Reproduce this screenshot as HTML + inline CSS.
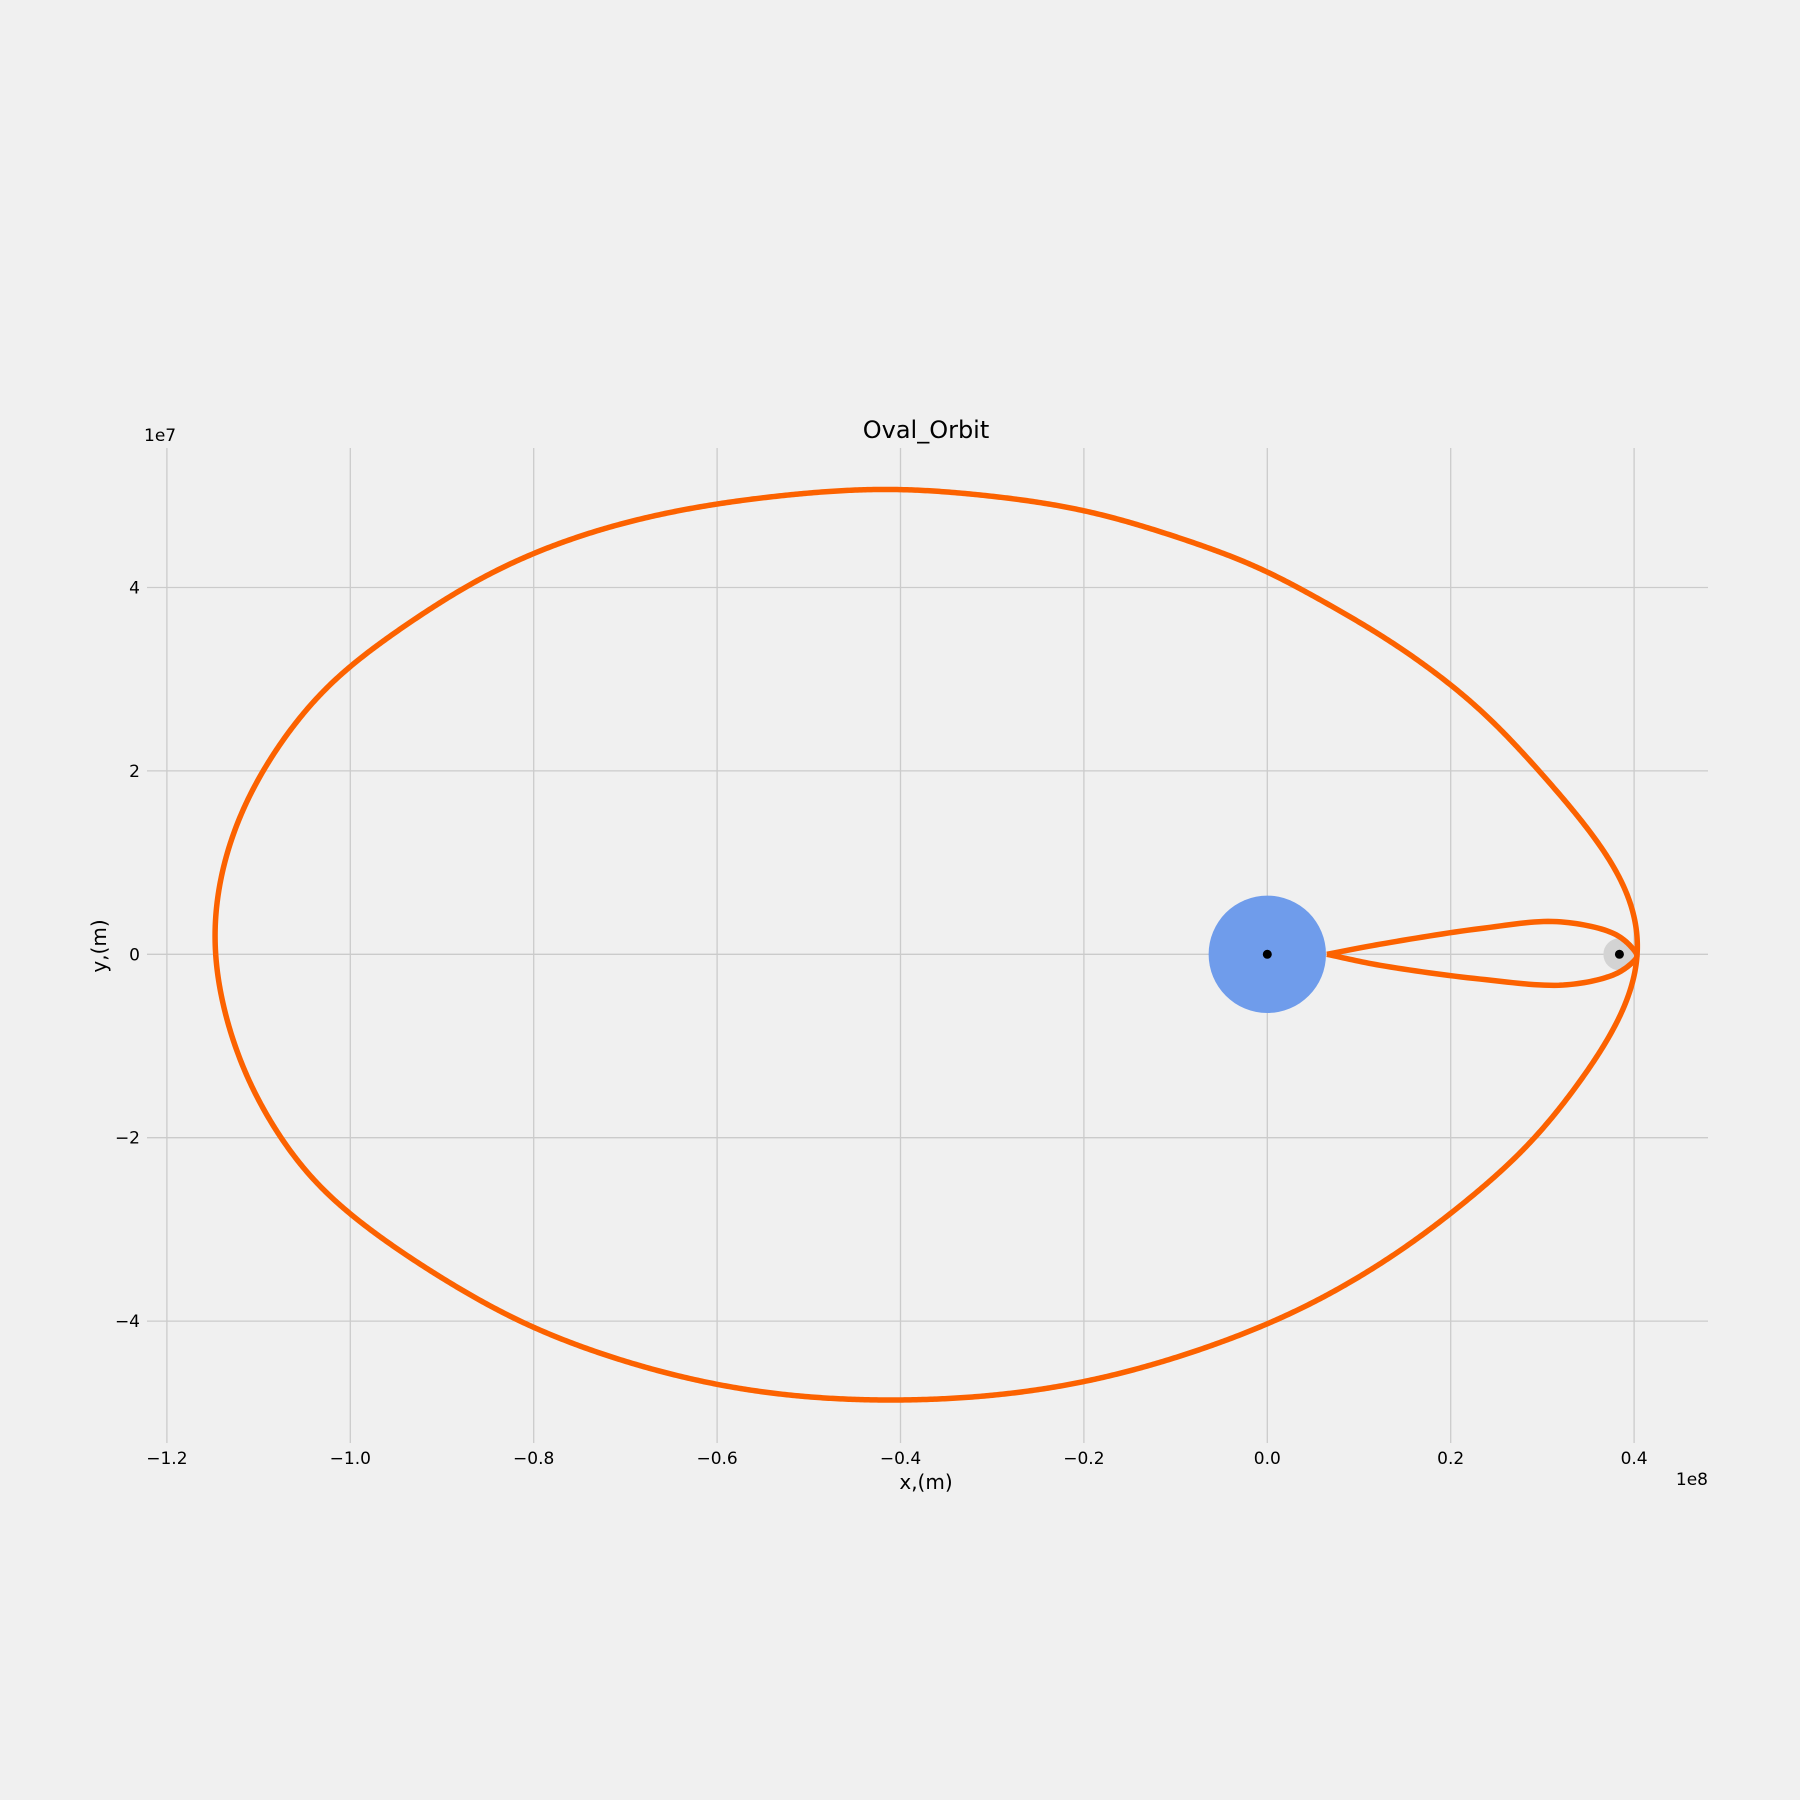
<!DOCTYPE html>
<html><head><meta charset="utf-8"><style>
html,body{margin:0;padding:0;background:#f0f0f0;}
svg{display:block;font-family:"DejaVu Sans","Liberation Sans",sans-serif;}
</style></head><body>
<svg id="chart" width="1800" height="1800" viewBox="0 0 1800 1800">
<rect width="1800" height="1800" fill="#f0f0f0"/>
<g id="grid"></g>
<g id="ticks"></g>
<g id="marks"></g>
<text x="926" y="438" font-size="24" text-anchor="middle" fill="#000">Oval_Orbit</text>
<text x="926" y="1489" font-size="20" text-anchor="middle" fill="#000">x,(m)</text>
<text x="0" y="0" font-size="20" text-anchor="middle" fill="#000" transform="translate(106,946) rotate(-90)">y,(m)</text>
<text x="1708" y="1485" font-size="17" text-anchor="end" fill="#000">1e8</text>
<text x="144" y="441" font-size="17" fill="#000">1e7</text>
</svg>
<script>
const xTicks = [-1.2, -1.0, -0.8, -0.6, -0.4, -0.2, 0.0, 0.2, 0.4];
const xTickLabels = ["\u22121.2","\u22121.0","\u22120.8","\u22120.6","\u22120.4","\u22120.2","0.0","0.2","0.4"];
const yTicks = [4, 2, 0, -2, -4];
const yTickLabels = ["4","2","0","\u22122","\u22124"];
// orbit points in units of 1e7 m
const outerX = [4.05, 4.03, 3.955, 3.77, 3.41, 2.955, 2.32, 1.30, 0.32, 0.0, -0.97, -2.0, -3.27, -4.31, -6.0, -7.13, -8.0, -8.75, -10.0, -10.40, -10.95, -11.20, -11.38, -11.48, -11.35, -11.09, -10.75, -10.37, -9.98, -9.49, -8.0, -6.0, -4.02, -2.0, 0.0, 1.3, 2.32, 2.92, 3.41, 3.70, 3.92, 4.03];
const outerY = [0.01, 0.30, 0.59, 0.96, 1.47, 2.0, 2.67, 3.44, 4.0, 4.18, 4.54, 4.84, 5.02, 5.07, 4.91, 4.67, 4.37, 4.0, 3.14, 2.76, 2.0, 1.50, 0.96, 0.15, -0.68, -1.41, -2.0, -2.50, -2.84, -3.21, -4.07, -4.69, -4.86, -4.66, -4.03, -3.33, -2.56, -2.0, -1.37, -0.94, -0.50, -0.135];
const innerX = [0.65, 1.23, 2.32, 3.16, 3.77, 3.97, 4.03, 3.97, 3.77, 3.23, 2.32, 1.23, 0.65];
const innerY = [0.0, 0.11, 0.28, 0.356, 0.23, 0.08, -0.02, -0.10, -0.226, -0.335, -0.27, -0.12, 0.0];
const earth = [0, 0, 0.64];
const moon = [3.84, 0, 0.175];

const NS='http://www.w3.org/2000/svg';
const X0=1267.3, Y0=954.3, K=91.7;
const sx=v=>X0+v*K, sy=v=>Y0-v*K;
const L=147, R=1708, T=448, B=1443;
function mk(tag,attrs,parent){const e=document.createElementNS(NS,tag);for(const k in attrs)e.setAttribute(k,attrs[k]);parent.appendChild(e);return e;}
const grid=document.getElementById('grid'), ticks=document.getElementById('ticks'), marks=document.getElementById('marks');
xTicks.forEach((t,i)=>{
  const l=mk('line',{x1:sx(t*10),x2:sx(t*10),y1:T,y2:B,stroke:'#cbcbcb','stroke-width':1.3},grid);
  
  
  const tx=mk('text',{x:sx(t*10),y:1464,'font-size':17,'text-anchor':'middle',fill:'#000'},ticks);
  tx.textContent=xTickLabels[i];
  
  
});
yTicks.forEach((t,i)=>{
  const l=mk('line',{x1:L,x2:R,y1:sy(t),y2:sy(t),stroke:'#cbcbcb','stroke-width':1.3},grid);
  
  
  const tx=mk('text',{x:140,y:sy(t)+6,'font-size':17,'text-anchor':'end',fill:'#000'},ticks);
  tx.textContent=yTickLabels[i];
  
  
});
function crPoint(P0,P1,P2,P3,u){
  const d=(a,b)=>Math.max(1e-6,Math.pow(Math.hypot(b[0]-a[0],b[1]-a[1]),0.5));
  const t0=0,t1=t0+d(P0,P1),t2=t1+d(P1,P2),t3=t2+d(P2,P3);
  const t=t1+(t2-t1)*u;
  const lerp=(A,Bp,ta,tb)=>[ (tb-t)/(tb-ta)*A[0]+(t-ta)/(tb-ta)*Bp[0], (tb-t)/(tb-ta)*A[1]+(t-ta)/(tb-ta)*Bp[1] ];
  const A1=lerp(P0,P1,t0,t1),A2=lerp(P1,P2,t1,t2),A3=lerp(P2,P3,t2,t3);
  const B1=lerp(A1,A2,t0,t2),B2=lerp(A2,A3,t1,t3);
  return lerp(B1,B2,t1,t2);
}
function curvePoints(xs,ys,closed){
  const p=xs.map((x,i)=>[sx(x),sy(ys[i])]);const n=p.length;
  const get=i=>{
    if(closed) return p[(i+n)%n];
    if(i<0) return [2*p[0][0]-p[1][0],2*p[0][1]-p[1][1]];
    if(i>=n) return [2*p[n-1][0]-p[n-2][0],2*p[n-1][1]-p[n-2][1]];
    return p[i];
  };
  const out=[p[0]];
  const segs=closed?n:n-1;
  for(let i=0;i<segs;i++){
    const P0=get(i-1),P1=get(i),P2=get(i+1),P3=get(i+2);
    for(let s=1;s<=16;s++) out.push(crPoint(P0,P1,P2,P3,s/16));
  }
  return out;
}
function resample(pts,step){
  const out=[pts[0]];let carry=0;
  for(let i=1;i<pts.length;i++){
    const a=pts[i-1],b=pts[i];const len=Math.hypot(b[0]-a[0],b[1]-a[1]);
    let t=step-carry;
    while(t<=len){out.push([a[0]+(b[0]-a[0])*t/len,a[1]+(b[1]-a[1])*t/len]);t+=step;}
    carry=len-(t-step);
  }
  return out;
}
function smoothClosed(pts,sigma){
  const n=pts.length,h=Math.ceil(sigma*3),w=[];let ws=0;
  for(let k=-h;k<=h;k++){const v=Math.exp(-k*k/(2*sigma*sigma));w.push(v);ws+=v;}
  return pts.map((_,i)=>{let x=0,y=0;for(let k=-h;k<=h;k++){const q=pts[((i+k)%n+n)%n];x+=q[0]*w[k+h];y+=q[1]*w[k+h];}return [x/ws,y/ws];});
}
function twice(pts,sigma){
  const g1=smoothClosed(pts,sigma), g2=smoothClosed(g1,sigma);
  return g1.map((q,i)=>[2*q[0]-g2[i][0],2*q[1]-g2[i][1]]);
}
function toPath(pts,closed){
  return 'M'+pts.map(q=>q[0].toFixed(2)+','+q[1].toFixed(2)).join(' L')+(closed?'Z':'');
}
const e=mk('circle',{cx:sx(earth[0]),cy:sy(earth[1]),r:earth[2]*K,fill:'#6f9ceb'},marks);


const m=mk('circle',{cx:sx(moon[0]),cy:sy(moon[1]),r:moon[2]*K,fill:'#d3d3d3'},marks);


const outerPts=twice(resample(curvePoints(outerX,outerY,true),2),22);
const o=mk('path',{d:toPath(outerPts,true),fill:'none',stroke:'#fc6200','stroke-width':5.5,'stroke-linejoin':'round'},marks);


const inn=mk('path',{d:toPath(curvePoints(innerX,innerY,false),false),fill:'none',stroke:'#fc6200','stroke-width':5.5,'stroke-linejoin':'miter'},marks);


const d1=mk('circle',{cx:sx(earth[0]),cy:sy(earth[1]),r:4.5,fill:'#000'},marks);


const d2=mk('circle',{cx:sx(moon[0]),cy:sy(moon[1]),r:4.5,fill:'#000'},marks);


</script>
</body></html>
